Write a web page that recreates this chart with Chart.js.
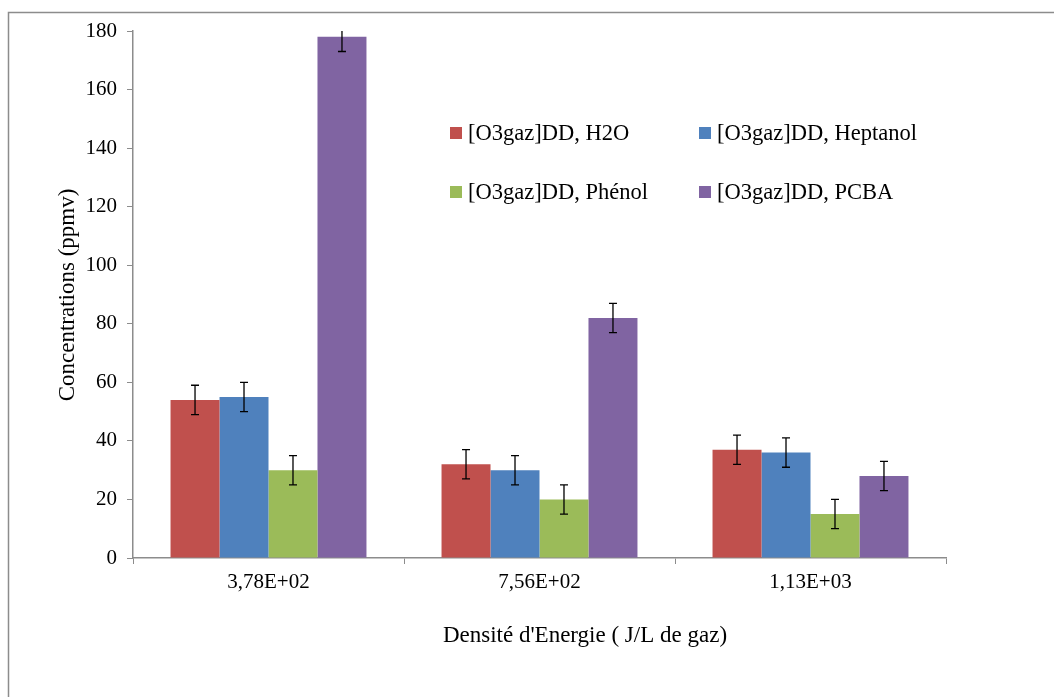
<!DOCTYPE html>
<html>
<head>
<meta charset="utf-8">
<script src="https://cdn.jsdelivr.net/npm/chart.js@4"></script>
<style>
  html, body { margin: 0; padding: 0; background: #fff; overflow: hidden; }
  canvas { display: block; }
</style>
</head>
<body>
<canvas id="chart" width="1054" height="697"></canvas>
<script>
// categories (energy density, J/L of gas)
const categories = ['3,78E+02', '7,56E+02', '1,13E+03'];

// series values (ppmv)
const h2o      = [54, 32, 37];
const heptanol = [55, 30, 36];
const phenol   = [30, 20, 15];
const pcba     = [178, 82, 28];

// error bars (+/-)
const errH2o      = [5, 5, 5];
const errHeptanol = [5, 5, 5];
const errPhenol   = [5, 5, 5];
const errPcba     = [5, 5, 5];

const seriesLabels = ['[O3gaz]DD, H2O', '[O3gaz]DD, Heptanol', '[O3gaz]DD, Phénol', '[O3gaz]DD, PCBA'];

const yTicks = [0, 20, 40, 60, 80, 100, 120, 140, 160, 180];

const FONT = '"Liberation Serif", "Times New Roman", serif';

// frame around the whole chart
const framePlugin = {
    id: 'frame',
    beforeDraw(chart) {
        const ctx = chart.ctx;
        ctx.save();
        ctx.strokeStyle = '#8c8c8c';
        ctx.lineWidth = 1.5;
        ctx.strokeRect(8.5, 12.5, 1200, 900);
        ctx.restore();
    }
};

// error bars drawn from the bar elements
const errorBarPlugin = {
    id: 'errorBars',
    afterDatasetsDraw(chart) {
        const ctx = chart.ctx;
        const y = chart.scales.y;
        const area = chart.chartArea;
        ctx.save();
        ctx.strokeStyle = '#000';
        ctx.lineWidth = 1.3;
        chart.data.datasets.forEach((ds, i) => {
            const meta = chart.getDatasetMeta(i);
            meta.data.forEach((bar, j) => {
                const v = ds.data[j];
                const e = ds.errors[j];
                let top = y.getPixelForValue(v + e);
                const bot = y.getPixelForValue(v - e);
                const clipped = top < area.top;
                if (clipped) top = area.top;
                ctx.beginPath();
                ctx.moveTo(bar.x, top);
                ctx.lineTo(bar.x, bot);
                if (!clipped) {
                    ctx.moveTo(bar.x - 4, top);
                    ctx.lineTo(bar.x + 4, top);
                }
                ctx.moveTo(bar.x - 4, bot);
                ctx.lineTo(bar.x + 4, bot);
                ctx.stroke();
            });
        });
        ctx.restore();
    }
};

// legend inside the plot area + axis titles
const labelsPlugin = {
    id: 'labels',
    afterDraw(chart) {
        const ctx = chart.ctx;
        ctx.save();
        ctx.fillStyle = '#000';
        ctx.font = '22.5px ' + FONT;
        ctx.textBaseline = 'middle';
        const cols = [450, 699];
        const rows = [133, 192];
        chart.data.datasets.forEach((ds, i) => {
            const x = cols[i % 2];
            const yy = rows[Math.floor(i / 2)];
            ctx.fillStyle = ds.backgroundColor;
            ctx.fillRect(x, yy - 6, 12, 12);
            ctx.fillStyle = '#000';
            ctx.textAlign = 'left';
            ctx.fillText(ds.label, x + 18, yy + 1);
        });

        // x title
        ctx.font = '23px ' + FONT;
        ctx.textAlign = 'center';
        ctx.fillText("Densité d'Energie ( J/L de gaz)", 585, 636);

        // y title
        ctx.translate(68, 295);
        ctx.rotate(-Math.PI / 2);
        ctx.fillText('Concentrations (ppmv)', 0, 0);
        ctx.restore();
    }
};

new Chart(document.getElementById('chart'), {
    type: 'bar',
    data: {
        labels: categories,
        datasets: [
            { label: seriesLabels[0], data: h2o, errors: errH2o, backgroundColor: '#C0504D' },
            { label: seriesLabels[1], data: heptanol, errors: errHeptanol, backgroundColor: '#4F81BD' },
            { label: seriesLabels[2], data: phenol, errors: errPhenol, backgroundColor: '#9BBB59' },
            { label: seriesLabels[3], data: pcba, errors: errPcba, backgroundColor: '#8064A2' }
        ]
    },
    options: {
        responsive: false,
        animation: false,
        events: [],
        layout: { padding: { left: 0, top: 31, right: 108, bottom: 89 } },
        datasets: {
            bar: { categoryPercentage: 0.723, barPercentage: 1.0, borderWidth: 0 }
        },
        plugins: {
            legend: { display: false },
            tooltip: { enabled: false }
        },
        scales: {
            x: {
                offset: true,
                grid: {
                    offset: true,
                    drawOnChartArea: false,
                    drawTicks: true,
                    tickLength: 6,
                    color: '#8c8c8c'
                },
                border: { color: '#8c8c8c', width: 1.5 },
                ticks: {
                    color: '#000',
                    padding: 6,
                    font: { family: FONT, size: 21 }
                },
                afterFit(scale) { scale.height = 50; }
            },
            y: {
                min: 0,
                max: 180,
                afterBuildTicks(scale) { scale.ticks = yTicks.map(v => ({ value: v })); },
                grid: {
                    drawOnChartArea: false,
                    drawTicks: true,
                    tickLength: 6,
                    color: '#8c8c8c'
                },
                border: { color: '#8c8c8c', width: 1.5 },
                ticks: {
                    color: '#000',
                    padding: 10,
                    font: { family: FONT, size: 21 }
                },
                afterFit(scale) { scale.width = 133; }
            }
        }
    },
    plugins: [framePlugin, errorBarPlugin, labelsPlugin]
});
</script>
</body>
</html>
